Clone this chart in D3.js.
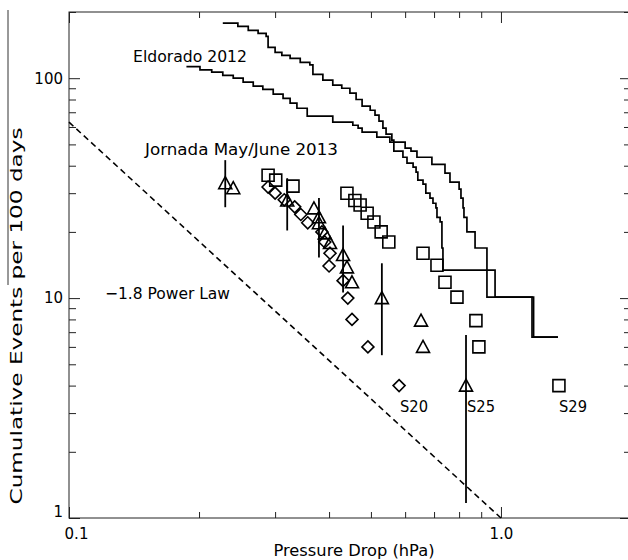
<!DOCTYPE html>
<html>
<head>
<meta charset="utf-8">
<script src="https://cdn.jsdelivr.net/npm/d3@7"></script>
<style>
body { margin: 0; background: #fff; }
text { font-family: "DejaVu Sans", sans-serif; fill: #000; }
</style>
</head>
<body>
<svg width="628" height="560"></svg>
<script>
// Eldorado 2012: two cumulative step curves (level starts at x)
var eldoradoAx = [0.227,0.246,0.260,0.274,0.286,0.289,0.300,0.311,0.325,0.343,0.361,0.367,0.387,0.408,0.428,0.447,0.462,0.477,0.498,0.511,0.522,0.533,0.542,0.559,0.565,0.593,0.606,0.626,0.636,0.642,0.660,0.670,0.685,0.696,0.707,0.711,0.723,0.730,0.730,0.734,0.969,1.19,1.355];
var eldoradoAy = [178,172,165,160,155,138,131,127,123,118,115,104,98,93,90,85.5,80,74.6,71.5,68,63.8,59.3,55.7,52.3,46.6,43.7,41.1,39.4,37.4,34.4,33,30,28.5,27,25.7,23.3,22.2,19.3,16.9,13.4,10.1,6.65,6.65];
var eldoradoBx = [0.187,0.201,0.214,0.227,0.240,0.253,0.267,0.281,0.297,0.313,0.325,0.337,0.356,0.408,0.454,0.467,0.477,0.516,0.553,0.600,0.619,0.639,0.692,0.742,0.762,0.800,0.808,0.817,0.821,0.834,0.871,0.928,1.18,1.355];
var eldoradoBy = [113,109,106.5,103,100,96,92,89,84.6,81,77,73,67.2,63.1,61.1,59.3,56.8,53.9,51.2,48.1,46.6,43.7,40.6,37,33.7,31.3,28.5,25.7,23.3,20,16.9,10.1,6.65,6.65];

// Jornada May/June 2013
var s20x = [0.289,0.300,0.315,0.333,0.344,0.357,0.385,0.391,0.402,0.400,0.431,0.442,0.452,0.492,0.581];
var s20y = [32,30,28,26,24,22,20,18,16,14,12,10,8,6,4];

var s25x = [0.230,0.240,0.320,0.369,0.379,0.379,0.391,0.402,0.431,0.440,0.452,0.530,0.653,0.660,0.830];
var s25y = [33.3,31.6,27.8,25.6,23.3,21.9,19.7,17.8,15.7,13.8,11.8,10,7.9,6.0,4.0];
var s25errX = [0.230,0.320,0.379,0.431,0.530,0.830];
var s25errLo = [25.9,20.3,15.3,10.6,5.5,1.17];
var s25errHi = [42.4,35.1,28.5,21.4,14.4,6.8];

var s29x = [0.289,0.301,0.330,0.440,0.459,0.472,0.490,0.508,0.528,0.550,0.660,0.711,0.742,0.791,0.875,0.889,1.362];
var s29y = [36.2,34.4,32.3,30.0,27.8,26.5,24.3,22.2,20.0,18.0,16.0,14.1,11.8,10.1,7.9,6.0,4.0];

// -1.8 power law reference line
var powerLawX = [0.1, 1.0];
var powerLawY = [63.1, 1.0];

var xMajor = [0.1, 1.0];
var xMinor = [0.2,0.3,0.4,0.5,0.6,0.7,0.8,0.9];
var yMajor = [1, 10, 100];
var yMinor = [2,3,4,5,6,7,8,9,20,30,40,50,60,70,80,90,200];

var svg = d3.select('svg');
var plotL = 69, plotR = 631, plotT = 12, plotB = 518;

var xScale = d3.scaleLog().domain([0.1, 2.0]).range([plotL, plotR]);
var yScale = d3.scaleLog().domain([1, 200]).range([plotB, plotT]);

svg.append('rect').attr('width', 628).attr('height', 560).attr('fill', '#fff');

// frame
svg.append('rect')
    .attr('x', plotL).attr('y', plotT)
    .attr('width', plotR - plotL).attr('height', plotB - plotT)
    .attr('fill', 'none').attr('stroke', '#222').attr('stroke-width', 1);

function tickGroup(axis, vals, size, tx, ty) {
    var g = svg.append('g')
        .attr('transform', 'translate(' + tx + ',' + ty + ')')
        .call(axis.tickValues(vals).tickSize(size).tickFormat(''));
    g.select('.domain').remove();
    g.selectAll('line').attr('stroke', '#222');
    return g;
}

tickGroup(d3.axisBottom(xScale), xMinor, -6, 0, plotB);
tickGroup(d3.axisTop(xScale), xMinor, -6, 0, plotT);
tickGroup(d3.axisTop(xScale), xMajor, -11, 0, plotT);
tickGroup(d3.axisLeft(yScale), yMinor, -7, plotL, 0);
tickGroup(d3.axisRight(yScale), yMinor, -7, plotR, 0);
tickGroup(d3.axisRight(yScale), yMajor, -11, plotR, 0);

var xAxis = svg.append('g')
    .attr('transform', 'translate(0,' + plotB + ')')
    .call(d3.axisBottom(xScale).tickValues(xMajor).tickSize(-11).tickPadding(10)
        .tickFormat(function (d) { return d.toFixed(1); }));
xAxis.select('.domain').remove();
xAxis.selectAll('line').attr('stroke', '#222');
xAxis.selectAll('text').attr('font-family', '"DejaVu Sans", sans-serif').attr('font-size', 15)
    .attr('x', function (d) { return d === 0.1 ? 7 : 0; });

var yAxis = svg.append('g')
    .attr('transform', 'translate(' + plotL + ',0)')
    .call(d3.axisLeft(yScale).tickValues(yMajor).tickSize(-11).tickPadding(6)
        .tickFormat(d3.format('d')));
yAxis.select('.domain').remove();
yAxis.selectAll('line').attr('stroke', '#222');
yAxis.selectAll('text').attr('font-family', '"DejaVu Sans", sans-serif').attr('font-size', 15)
    .attr('y', function (d) { return d === 1 ? -6 : 0; });

// axis titles
svg.append('text')
    .attr('x', 354).attr('y', 556)
    .attr('text-anchor', 'middle')
    .attr('font-size', 16)
    .attr('textLength', 161).attr('lengthAdjust', 'spacingAndGlyphs')
    .text('Pressure Drop (hPa)');

svg.append('text')
    .attr('transform', 'translate(22,316) rotate(-90)')
    .attr('text-anchor', 'middle')
    .attr('font-size', 16)
    .attr('textLength', 377).attr('lengthAdjust', 'spacingAndGlyphs')
    .text('Cumulative Events per 100 days');

svg.append('line')
    .attr('x1', 8).attr('x2', 8).attr('y1', 10).attr('y2', 285)
    .attr('stroke', '#333').attr('stroke-width', 1);

// power law
svg.append('path')
    .datum(d3.zip(powerLawX, powerLawY))
    .attr('d', d3.line().x(function (d) { return xScale(d[0]); }).y(function (d) { return yScale(d[1]); }))
    .attr('fill', 'none').attr('stroke', '#000').attr('stroke-width', 1.6)
    .attr('stroke-dasharray', '6,4');

// Eldorado step curves
var step = d3.line()
    .x(function (d) { return xScale(d[0]); })
    .y(function (d) { return yScale(d[1]); })
    .curve(d3.curveStepAfter);

[d3.zip(eldoradoAx, eldoradoAy), d3.zip(eldoradoBx, eldoradoBy)].forEach(function (pts) {
    svg.append('path').datum(pts).attr('d', step)
        .attr('fill', 'none').attr('stroke', '#000').attr('stroke-width', 1.7);
});

// error bars on S25
svg.selectAll('.err')
    .data(d3.zip(s25errX, s25errLo, s25errHi))
    .enter()
    .append('line')
    .attr('class', 'err')
    .attr('x1', function (d) { return xScale(d[0]); })
    .attr('x2', function (d) { return xScale(d[0]); })
    .attr('y1', function (d) { return yScale(d[1]); })
    .attr('y2', function (d) { return yScale(d[2]); })
    .attr('stroke', '#000').attr('stroke-width', 1.8);

function markers(xs, ys, shape) {
    svg.append('g').selectAll('path')
        .data(d3.zip(xs, ys))
        .enter()
        .append('path')
        .attr('transform', function (d) {
            return 'translate(' + xScale(d[0]) + ',' + yScale(d[1]) + ')';
        })
        .attr('d', shape)
        .attr('fill', 'none').attr('stroke', '#000').attr('stroke-width', 1.6);
}

markers(s20x, s20y, 'M0,-6L6,0L0,6L-6,0Z');
markers(s25x, s25y, 'M0,-6.5L6.5,5.5L-6.5,5.5Z');
markers(s29x, s29y, 'M-6,-6H6V6H-6Z');

// annotations
function label(txt, x, y, w) {
    svg.append('text')
        .attr('x', x).attr('y', y)
        .attr('font-size', 16)
        .attr('textLength', w).attr('lengthAdjust', 'spacingAndGlyphs')
        .text(txt);
}
label('Eldorado 2012', 133, 62, 114);
label('Jornada May/June 2013', 145, 155, 193);
label('\u22121.8 Power Law', 105, 299, 125);
label('S20', 400, 412, 28);
label('S25', 467, 412, 28);
label('S29', 559, 412, 28);
</script>
</body>
</html>
